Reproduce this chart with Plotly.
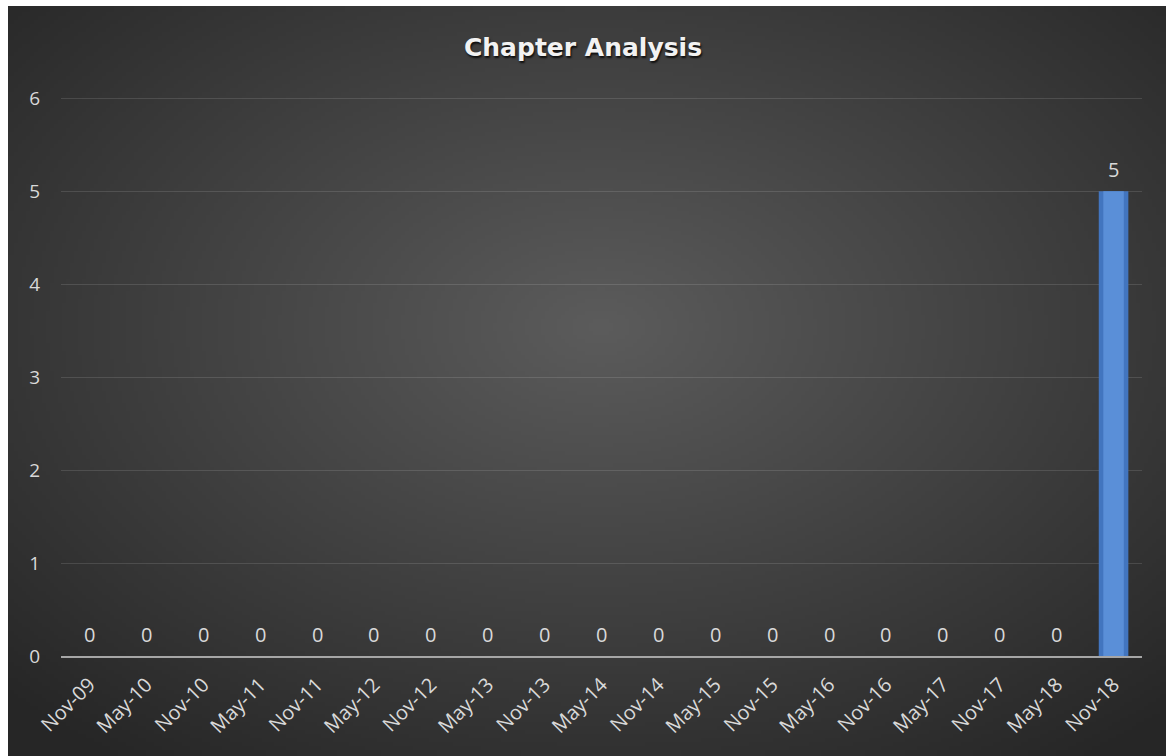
import base64, struct, zlib
import numpy as np
import plotly.graph_objects as go

categories = ["Nov-09", "May-10", "Nov-10", "May-11", "Nov-11", "May-12", "Nov-12",
              "May-13", "Nov-13", "May-14", "Nov-14", "May-15", "Nov-15", "May-16",
              "Nov-16", "May-17", "Nov-17", "May-18", "Nov-18"]
values = [0, 0, 0, 0, 0, 0, 0, 0, 0, 0, 0, 0, 0, 0, 0, 0, 0, 0, 5]
y_ticks = [0, 1, 2, 3, 4, 5, 6]

W, H = 1166, 756
ML, MR, MT, MB = 61, 24, 96, 100
PW, PH = W - ML - MR, H - MT - MB
BX, BY = 8, 6  # white border at left / top of the chart image


def radial_png(w, h, cx, cy, c_in, c_out):
    yy, xx = np.mgrid[0:h, 0:w]
    d = np.sqrt(((xx - cx) / w) ** 2 + ((yy - cy) / h) ** 2)
    d = np.clip(d / 0.72, 0, 1)
    c_in = np.array(c_in, float)
    c_out = np.array(c_out, float)
    img = (c_in[None, None, :] * (1 - d[..., None]) + c_out[None, None, :] * d[..., None]).astype(np.uint8)
    raw = b"".join(b"\x00" + img[r].tobytes() for r in range(h))

    def chunk(t, data):
        c = struct.pack(">I", len(data)) + t + data
        return c + struct.pack(">I", zlib.crc32(t + data) & 0xffffffff)

    png = b"\x89PNG\r\n\x1a\n" + chunk(b"IHDR", struct.pack(">IIBBBBB", w, h, 8, 2, 0, 0, 0)) \
        + chunk(b"IDAT", zlib.compress(raw, 9)) + chunk(b"IEND", b"")
    return "data:image/png;base64," + base64.b64encode(png).decode()


bg = radial_png(290, 188, 148, 80, (92, 92, 92), (38, 38, 38))

fig = go.Figure()
fig.add_trace(go.Bar(
    x=categories, y=values, width=0.52,
    marker=dict(color="#4275bf", line=dict(width=0)),
    hoverinfo="x+y",
))
fig.add_trace(go.Bar(
    x=categories, y=values, width=0.36,
    marker=dict(color="#5a8fd8", line=dict(width=0)),
    hoverinfo="skip",
))

annotations = [dict(x=c, y=v, text=str(v), showarrow=False, yshift=22, xref="x", yref="y",
                    font=dict(family="Open Sans, Noto Sans, sans-serif", size=20, color="#d9d9d9"))
               for c, v in zip(categories, values)]

fig.update_layout(
    width=W, height=H,
    margin=dict(l=ML, r=MR, t=MT, b=MB),
    paper_bgcolor="#ffffff",
    plot_bgcolor="rgba(0,0,0,0)",
    showlegend=False,
    barmode="overlay",
    annotations=annotations,
    title=dict(text="<b>Chapter Analysis</b>", x=0.5, xanchor="center", y=0.938, yanchor="middle",
               font=dict(family="Comic Sans MS, DejaVu Sans, sans-serif", size=25, color="#f2f2f2",
                         shadow="1px 2px 2px rgba(0,0,0,0.8)")),
    images=[dict(source=bg, xref="paper", yref="paper", x=(BX - ML) / PW, y=1 + (MT - BY) / PH,
                 sizex=(W - BX) / PW, sizey=(H - BY) / PH,
                 xanchor="left", yanchor="top", sizing="stretch", layer="below")],
    xaxis=dict(type="category", range=[-0.5, len(categories) - 0.5], tickangle=-45,
               showgrid=False, ticks="", ticklabelstandoff=7,
               tickfont=dict(family="Open Sans, Noto Sans, sans-serif", size=20, color="#d9d9d9"),
               showline=True, linecolor="#a6a6a6", linewidth=2, zeroline=False),
    yaxis=dict(range=[0, 6.025], tickvals=y_ticks, showgrid=True, gridcolor="rgba(255,255,255,0.12)",
               gridwidth=1, zeroline=False, ticks="", showline=False, ticklabelstandoff=20,
               tickfont=dict(family="Open Sans, Noto Sans, sans-serif", size=19, color="#d9d9d9")),
)
fig.write_html("out.html")
